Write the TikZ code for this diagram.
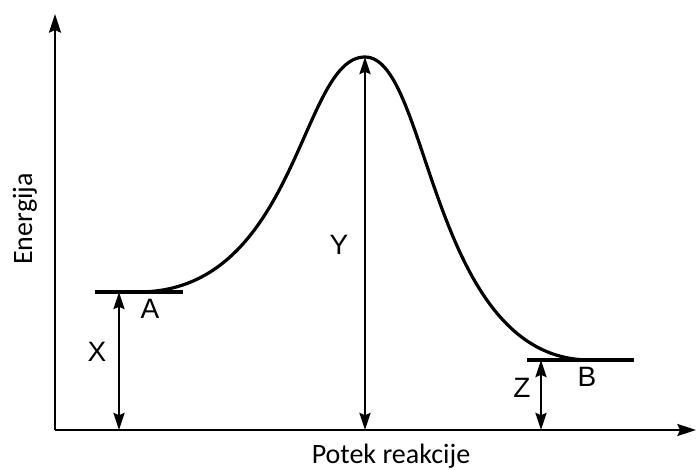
\documentclass[tikz,border=0pt]{standalone}
\usepackage{fontspec}
\setmainfont{Liberation Sans}
\newfontfamily\calibri{Carlito}
\usetikzlibrary{arrows.meta}
\tikzset{
  axis/.style={line width=1.5pt,-{Stealth[length=14pt,width=9pt,inset=2pt]}},
  level/.style={line width=2.4pt},
  curve/.style={line width=2.4pt},
  gap/.style={line width=1.1pt,{Stealth[length=13pt,width=8.5pt,inset=2pt]}-{Stealth[length=13pt,width=8.5pt,inset=2pt]}},
  lbl/.style={font=\fontsize{21}{24}\selectfont,inner sep=0pt},
  axlbl/.style={font=\calibri\fontsize{21}{25}\selectfont,inner sep=0pt}
}
\begin{document}
\begin{tikzpicture}[x=0.75pt,y=-0.75pt]
\useasboundingbox (0,0) rectangle (696,470);
% coordinates
\coordinate (O) at (55,430);
\coordinate (Ytop) at (55,14);
\coordinate (Xend) at (696,430);
\coordinate (A1) at (95,292);
\coordinate (A2) at (183,292);
\coordinate (B1) at (527,360);
\coordinate (B2) at (634,360);
\coordinate (Cs) at (138,292);
\coordinate (P) at (365,57);
\coordinate (Ce) at (590,360);
\coordinate (Xtop) at (119,292);
\coordinate (Xbot) at (119,430);
\coordinate (Ybot) at (365,430);
\coordinate (Ztop) at (541,360);
\coordinate (Zbot) at (541,430);
% axes
\draw[axis] (O) -- (Ytop);
\draw[axis] (O) -- (Xend);
% levels
\draw[level] (A1) -- (A2);
\draw[level] (B1) -- (B2);
% curve
\draw[curve] (Cs) .. controls (298,292) and (300,57) .. (P)
             .. controls (430,57) and (430,360) .. (Ce);
% gaps
\draw[gap] (Xtop) -- (Xbot);
\draw[gap] (P) -- (Ybot);
\draw[gap] (Ztop) -- (Zbot);
% labels
\node[lbl] (lX) at (97,352) {X};
\node[lbl] (lA) at (150,309) {A};
\node[lbl] (lY) at (339,245) {Y};
\node[lbl] (lZ) at (522,388) {Z};
\node[lbl] (lB) at (587,377) {B};
\node[axlbl,anchor=base] (lx) at (391,463) {Potek reakcije};
\node[axlbl,anchor=base,rotate=90] (ly) at (32,219) {Energija};
\end{tikzpicture}
\end{document}
